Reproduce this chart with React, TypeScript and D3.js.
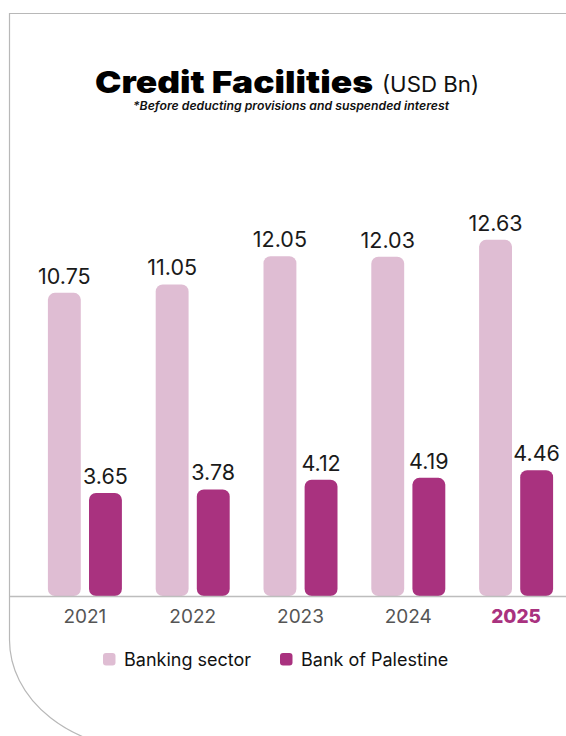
import React from "react";
import * as d3 from "d3";

const years = ["2021", "2022", "2023", "2024", "2025"];
const bankingSector = [10.75, 11.05, 12.05, 12.03, 12.63];
const bankOfPalestine = [3.65, 3.78, 4.12, 4.19, 4.46];
const seriesNames = ["Banking sector", "Bank of Palestine"];
const seriesColors = ["#dfbdd3", "#a9327f"];

const W = 566;
const H = 736;
const baseline = 596;

export default function App() {
  const x = d3.scaleBand<string>().domain(years).range([31, 570]).padding(0);
  const centers = years.map((y) => (x(y) as number) + x.bandwidth() / 2);
  const inner = d3.scaleBand<number>().domain([0, 1]).range([-37, 37]).paddingInner(0.2).paddingOuter(0);
  const y = d3.scaleLinear().domain([0, 13]).range([baseline, baseline - 13 * 28.2]);
  const series = [bankingSector, bankOfPalestine];
  const font = "Inter, 'Open Sans', sans-serif";

  const frame = d3.path();
  frame.moveTo(W + 5, 13.5);
  frame.lineTo(9.5, 13.5);
  frame.lineTo(9.5, 640);

  return (
    <svg width={W} height={H} style={{ position: "absolute", left: 0, top: 0, background: "#fff" }}>
      <path d={frame.toString() + " A 140 110 0 0 0 149.5 750"} fill="none" stroke="#b8b8b8" strokeWidth={1.2} />
      <text x={95} y={93} fontFamily={font} fontWeight={900} fontSize={30} fill="#000" textLength={278} lengthAdjust="spacingAndGlyphs">
        Credit Facilities
      </text>
      <text x={382} y={92} fontFamily={font} fontWeight={400} fontSize={22} fill="#111" textLength={97} lengthAdjust="spacingAndGlyphs">
        (USD Bn)
      </text>
      <text x={291} y={110} textAnchor="middle" fontFamily={font} fontWeight={600} fontStyle="italic" fontSize={11.5} fill="#111" textLength={316} lengthAdjust="spacingAndGlyphs">
        *Before deducting provisions and suspended interest
      </text>

      {series.map((vals, si) =>
        vals.map((v, i) => {
          const bx = centers[i] + (inner(si) as number);
          const bw = inner.bandwidth();
          return (
            <g key={`${si}-${i}`}>
              <rect x={bx} y={y(v)} width={bw} height={baseline - y(v)} rx={7} ry={7} fill={seriesColors[si]} />
              <text x={bx + bw / 2} y={y(v) - 9} textAnchor="middle" fontFamily={font} fontWeight={400} fontSize={21.5} fill="#1a1a1a">
                {v.toFixed(2)}
              </text>
            </g>
          );
        })
      )}

      <line x1={10} x2={W} y1={baseline + 0.5} y2={baseline + 0.5} stroke="#bdbdbd" strokeWidth={1.5} />

      {years.map((yr, i) => {
        const last = i === years.length - 1;
        return (
          <text key={yr} x={centers[i]} y={623} textAnchor="middle" fontFamily={font} fontWeight={last ? 800 : 400} fontSize={19} fill={last ? "#a9327f" : "#555"}>
            {yr}
          </text>
        );
      })}

      {seriesNames.map((name, si) => {
        const lx = si === 0 ? 103 : 280;
        return (
          <g key={name}>
            <rect x={lx} y={653} width={12.5} height={12.5} rx={3} fill={seriesColors[si]} />
            <text x={lx + 21} y={666} fontFamily={font} fontWeight={400} fontSize={18} fill="#111">
              {name}
            </text>
          </g>
        );
      })}
    </svg>
  );
}
